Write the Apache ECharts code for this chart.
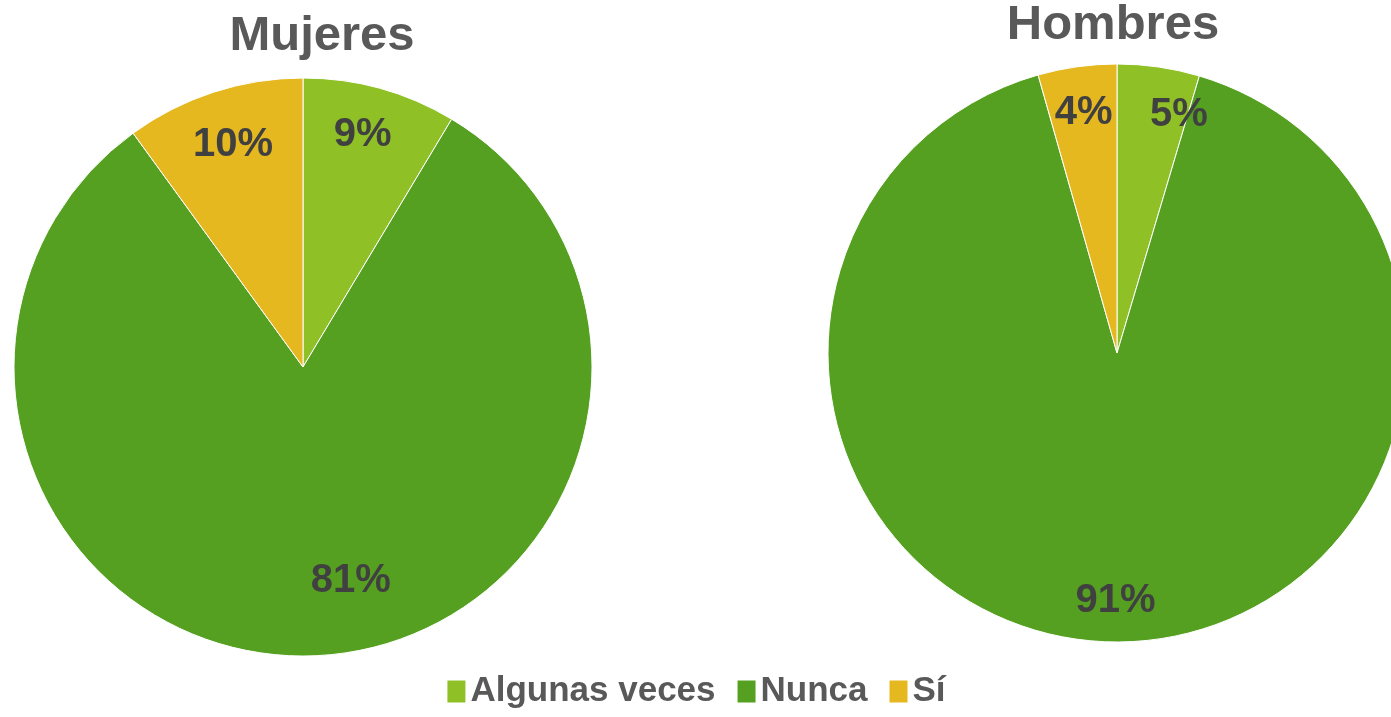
<!DOCTYPE html>
<html>
<head>
<meta charset="utf-8">
<script src="https://cdn.jsdelivr.net/npm/echarts@6/dist/echarts.min.js"></script>
<style>html,body{margin:0;padding:0;background:#fff}#c{width:1391px;height:717px}</style>
</head>
<body>
<div id="c"></div>
<script>
const categories = ['Algunas veces', 'Nunca', 'Sí'];
const mujeres = [8.6, 81.4, 10.0];
const hombres = [4.6, 91.0, 4.4];
const titles = ['Mujeres', 'Hombres'];
const colors = ['#8FC126', '#55A021', '#E6B820'];

const FONT = '"Liberation Sans", Arial, sans-serif';

function pieData(vals) {
  return categories.map((n, i) => ({ name: n, value: vals[i] }));
}

function visible(vals, cx, cy) {
  return {
    type: 'pie', center: [cx, cy], radius: [0, 289], startAngle: 90, clockwise: true,
    data: pieData(vals), label: { show: false }, labelLine: { show: false },
    itemStyle: { borderColor: '#ffffff', borderWidth: 1 }, silent: true, animation: false
  };
}

function labels(vals, cx, cy, offsets) {
  return {
    type: 'pie', center: [cx, cy], radius: [190, 289], startAngle: 90, clockwise: true,
    data: pieData(vals).map((d, i) => offsets[i] ? Object.assign(d, { label: { offset: offsets[i] } }) : d),
    itemStyle: { color: 'rgba(0,0,0,0)' }, silent: true, animation: false, legendHoverLink: false,
    label: {
      show: true, position: 'inside', formatter: p => Math.round(p.value) + '%',
      fontFamily: FONT, fontWeight: 'bold', fontSize: 40, color: '#404040'
    },
    labelLine: { show: false }
  };
}

const chart = echarts.init(document.getElementById('c'));
chart.setOption({
  animation: false,
  color: colors,
  title: [
    { text: titles[0], left: 317, top: 7, textAlign: 'center',
      textStyle: { fontFamily: FONT, fontWeight: 'bold', fontSize: 49, color: '#595959' } },
    { text: titles[1], left: 1108, top: -4, textAlign: 'center',
      textStyle: { fontFamily: FONT, fontWeight: 'bold', fontSize: 49, color: '#595959' } }
  ],
  legend: {
    data: categories, bottom: 3, left: 'center', itemWidth: 20, itemHeight: 24, itemGap: 20,
    icon: 'rect', selectedMode: false,
    textStyle: { fontFamily: FONT, fontWeight: 'bold', fontSize: 35, color: '#595959', padding: [0, 0, 0, -1] }
  },
  series: [
    visible(mujeres, 303, 367),
    visible(hombres, 1117, 353),
    labels(mujeres, 303, 367, [[-5, 2], [37, -28], [5, 9]]),
    labels(hombres, 1117, 353, [[27, 2], [0, 5], null])
  ]
});
</script>
</body>
</html>
